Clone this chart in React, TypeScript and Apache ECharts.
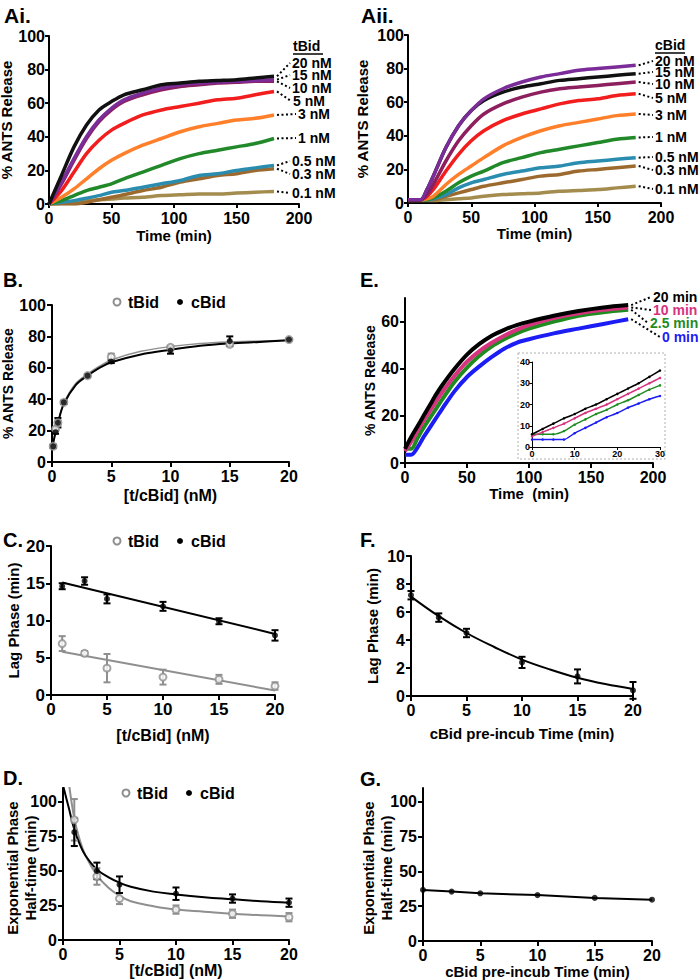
import React, { useEffect, useRef } from "react";
import * as echarts from "echarts";

const FONT = "Liberation Sans, Arial, sans-serif";

// ---------- Panel Ai (tBid time courses) ----------
const tAi = [0, 10, 20, 30, 40, 50, 60, 75, 90, 105, 120, 135, 150, 165, 180];
const Ai_labels = ["20 nM", "15 nM", "10 nM", "5 nM", "3 nM", "1 nM", "0.5 nM", "0.3 nM", "0.1 nM"];
const Ai_20 = [0, 17, 34, 47, 56, 61, 65, 68, 71, 72, 73, 73.5, 74, 75, 76];
const Ai_15 = [0, 13, 27, 40, 50, 57, 62, 66, 69, 71, 72, 72.5, 73, 73.5, 74];
const Ai_10 = [0, 12, 26, 39, 49, 56, 61, 65, 68, 70, 71, 72, 72.5, 73, 73];
const Ai_5 = [0, 8, 19, 30, 38, 44, 48, 53, 56, 58, 60, 62, 63, 65, 67];
const Ai_3 = [0, 4, 9, 15, 21, 26, 30, 35, 39, 43, 46, 48, 50, 51, 53];
const Ai_1 = [0, 2, 5, 8, 10, 12, 15, 19, 23, 27, 30, 32, 34, 36, 39];
const Ai_05 = [0, 1, 2, 3.5, 5, 7, 8, 10, 12, 14, 17, 18, 20, 21.5, 23];
const Ai_03 = [0, 0, 0, 1, 2.5, 4, 5.5, 8, 10, 13, 15, 17, 18, 20, 21];
const Ai_01 = [0, 0.5, 1.5, 2, 2.5, 3, 3.5, 4, 5, 5.5, 6, 6, 6.5, 7, 7.5];

// ---------- Panel Aii (cBid time courses) ----------
const tAii = [0, 10, 15, 20, 30, 40, 50, 60, 75, 90, 105, 120, 135, 150, 165, 180];
const Aii_labels = ["20 nM", "15 nM", "10 nM", "5 nM", "3 nM", "1 nM", "0.5 nM", "0.3 nM", "0.1 nM"];
const Aii_20 = [2, 2, 8, 16, 33, 46, 55, 62, 68, 72, 75, 77, 79, 80, 81, 82];
const Aii_15 = [2, 2, 8, 16, 33, 46, 55, 61, 66, 69, 71, 73, 74, 75, 76, 77];
const Aii_10 = [2, 2, 5, 11, 25, 37, 46, 53, 59, 63, 66, 68, 69, 70, 71, 72];
const Aii_5 = [2, 2, 4, 8, 19, 29, 37, 43, 49, 53, 56, 59, 61, 62, 64, 65];
const Aii_3 = [2, 2, 2.5, 4, 11, 17, 22, 27, 34, 39, 43, 46, 48, 50, 52, 53];
const Aii_1 = [2, 2, 2, 3, 7, 12, 16, 19, 24, 27, 30, 32, 34, 36, 38, 39];
const Aii_05 = [2, 2, 2, 2.5, 5, 9, 12, 14, 17, 19, 21, 22, 24, 25, 26, 27];
const Aii_03 = [2, 2, 2, 2, 4, 6, 8, 10, 12, 14, 16, 17, 19, 20, 21, 22];
const Aii_01 = [1.5, 1.5, 1.5, 1.5, 2, 2.5, 3, 4, 5, 5.5, 6, 7, 7.5, 8, 9, 10];

// ---------- Panel B ----------
const B_x = [0.1, 0.3, 0.5, 1, 3, 5, 10, 15, 20];
const B_tBid = [10, 21, 25, 38, 55, 67, 73, 75, 78];
const B_tBid_err = [1, 1, 1.5, 1, 1, 2, 1, 1, 0.5];
const B_cBid = [10, 19, 25, 38, 55, 64, 71, 77, 78];
const B_cBid_err = [1, 1, 3, 1, 1, 1, 2, 3, 0.5];
const B_fit_x = [0, 0.1, 0.3, 0.5, 1, 2, 3, 4, 5, 7.5, 10, 12.5, 15, 17.5, 20];
const B_fit_tBid = [8, 12, 19, 25, 37.5, 50, 56, 61, 65, 70.5, 73.5, 75.5, 76.5, 77, 77.5];
const B_fit_cBid = [8, 12, 19, 25, 37, 49, 55, 60, 63.5, 68.5, 71.5, 74, 75.5, 76.5, 77.5];

// ---------- Panel E ----------
const tE = [0, 5, 10, 15, 20, 25, 30, 40, 50, 60, 70, 80, 90, 100, 120, 140, 160, 180];
const E_labels = ["20 min", "10 min", "2.5 min", "0 min"];
const E_20 = [6, 11, 15.5, 20, 24.5, 29, 33, 40, 46, 50.5, 54, 56.5, 58.5, 60, 62.5, 64.5, 66, 67];
const E_10 = [5, 9, 13.5, 18, 22, 26, 30, 37, 43, 47.5, 51, 54, 56.5, 58.5, 61.5, 63.5, 65, 66];
const E_2_5 = [6, 6, 10.5, 15, 19, 23, 27, 34.5, 40.5, 45.5, 49.5, 52.5, 55, 57, 60, 62.5, 64, 65];
const E_0 = [3.5, 3.5, 6.5, 11, 15, 19, 23, 30.5, 36.5, 41, 45, 48.5, 51, 52.5, 55, 57, 59, 61];
// inset (first 30 min)
const tIn = [0, 2.5, 5, 7.5, 10, 12.5, 15, 17.5, 20, 22.5, 25, 27.5, 30];
const In_20 = [6, 8.5, 11, 13.5, 15.5, 18, 20, 22.5, 25, 27.5, 30, 33, 36];
const In_10 = [5, 7, 9, 11, 13.5, 16, 18, 20, 22.5, 25, 27.5, 30, 32.5];
const In_2_5 = [6, 6, 6, 7.5, 10.5, 13, 15.5, 17.5, 20, 22, 24.5, 27, 29];
const In_0 = [3.5, 3.5, 3.5, 3.5, 6.5, 9, 11.5, 14, 16, 18.5, 20.5, 22.5, 24];

// ---------- Panel C ----------
const C_x = [1, 3, 5, 10, 15, 20];
const C_cBid = [14.6, 15.3, 12.9, 11.9, 9.9, 8.0];
const C_cBid_err = [0.4, 0.5, 0.6, 0.6, 0.4, 0.7];
const C_tBid = [6.9, 5.6, 3.6, 2.4, 2.1, 1.2];
const C_tBid_err = [1.0, 0.3, 1.9, 1.0, 0.6, 0.5];
const C_fit_x = [1, 20];
const C_fit_cBid = [15.1, 8.2];
const C_fit_tBid = [5.8, 0.6];

// ---------- Panel F ----------
const F_x = [0, 2.5, 5, 10, 15, 20];
const F_y = [7.2, 5.6, 4.5, 2.4, 1.4, 0.4];
const F_err = [0.3, 0.3, 0.3, 0.4, 0.5, 0.6];
const F_fit_x = [0, 2.5, 5, 7.5, 10, 12.5, 15, 17.5, 20];
const F_fit_y = [7.1, 5.7, 4.5, 3.5, 2.6, 1.9, 1.3, 0.85, 0.5];

// ---------- Panel D ----------
const D_x = [1, 3, 5, 10, 15, 20];
const D_cBid = [78, 50, 40, 33.5, 30, 27];
const D_cBid_err = [10, 6, 6, 4.5, 3, 3];
const D_tBid = [87, 46, 30, 22, 19, 16.5];
const D_tBid_err = [15, 6, 4, 3, 3, 3];
const D_fit_cBid_x = [0, 0.5, 1, 1.5, 2, 3, 4, 5, 6, 8, 10, 12.5, 15, 17.5, 20];
const D_fit_cBid = [112, 96, 80, 69, 61, 51, 45.5, 41.5, 38.5, 35, 33, 31, 29.5, 28, 27];
const D_fit_tBid_x = [0.5, 1, 1.5, 2, 3, 4, 5, 6, 8, 10, 12.5, 15, 17.5, 20];
const D_fit_tBid = [115, 88, 72, 61, 47, 38, 32, 28, 24.5, 22, 20.5, 19, 18, 17];

// ---------- Panel G ----------
const G_x = [0, 2.5, 5, 10, 15, 20];
const G_y = [36.7, 35.5, 34.3, 33, 31, 29.7];

const A_COLORS_I = ["#111111", "#7b2c98", "#8d1f5e", "#f21d1d", "#ff7f2a", "#22892a", "#2a8db0", "#9c6a2e", "#a38c4d"];
const A_COLORS_II = ["#7b2c98", "#111111", "#8d1f5e", "#f21d1d", "#ff7f2a", "#22892a", "#2a8db0", "#9c6a2e", "#a38c4d"];
const E_COLORS = ["#000000", "#d6337f", "#1f8c1f", "#1c1cf5"];
const GRAY = "#8f8f8f";

const pairs = (xs: number[], ys: number[]) => xs.map((x, i) => [x, ys[i]]);

function axis(grid: number, min: number, max: number, opts: any = {}) {
  const fs = opts.fontSize ?? 15;
  const w = opts.lw ?? 2;
  const ns = opts.nameSize ?? 15;
  const ax: any = {
    gridIndex: grid,
    type: "value",
    min,
    max,
    interval: opts.interval,
    name: opts.name ?? "",
    nameLocation: "middle",
    nameGap: opts.nameGap ?? 25,
    nameTextStyle: {
      color: "#000",
      fontWeight: "bold",
      fontSize: ns,
      fontFamily: FONT,
    },
    axisLine: { show: true, onZero: false, lineStyle: { color: "#000", width: w } },
    axisTick: { show: true, inside: false, length: opts.tickLen ?? 5, lineStyle: { color: "#000", width: w } },
    axisLabel: {
      color: "#000",
      fontWeight: "bold",
      fontSize: fs,
      fontFamily: FONT,
      margin: opts.margin ?? 6,
    },
    splitLine: { show: false },
  };
  if (opts.custom) {
    ax.axisTick.customValues = opts.custom;
    ax.axisLabel.customValues = opts.custom;
  }
  return ax;
}

function line(grid: number, xs: number[], ys: number[], color: string, width: number, extra: any = {}) {
  return {
    type: "line",
    xAxisIndex: grid,
    yAxisIndex: grid,
    data: pairs(xs, ys),
    showSymbol: false,
    smooth: 0.3,
    lineStyle: { color, width },
    itemStyle: { color },
    silent: true,
    z: 2,
    ...extra,
  };
}

function scatter(grid: number, xs: number[], ys: number[], hollow: boolean, size: number) {
  return {
    type: "scatter",
    xAxisIndex: grid,
    yAxisIndex: grid,
    data: pairs(xs, ys),
    symbol: "circle",
    symbolSize: size,
    itemStyle: hollow
      ? { color: "#fff", borderColor: GRAY, borderWidth: 2 }
      : { color: "#000" },
    silent: true,
    z: 4,
  };
}

function errBars(grid: number, xs: number[], ys: number[], errs: number[], color: string) {
  return {
    type: "custom",
    xAxisIndex: grid,
    yAxisIndex: grid,
    data: xs.map((x, i) => [x, ys[i] - errs[i], ys[i] + errs[i]]),
    encode: { x: 0, y: [1, 2] },
    silent: true,
    z: 3,
    renderItem: (params: any, api: any) => {
      const x = api.value(0);
      const p1 = api.coord([x, api.value(1)]);
      const p2 = api.coord([x, api.value(2)]);
      const w = 3.5;
      const st = { stroke: color, lineWidth: 2 };
      return {
        type: "group",
        children: [
          { type: "line", shape: { x1: p1[0], y1: p1[1], x2: p2[0], y2: p2[1] }, style: st },
          { type: "line", shape: { x1: p1[0] - w, y1: p1[1], x2: p1[0] + w, y2: p1[1] }, style: st },
          { type: "line", shape: { x1: p2[0] - w, y1: p2[1], x2: p2[0] + w, y2: p2[1] }, style: st },
        ],
      };
    },
  };
}

function txt(x: number, y: number, text: string, size: number, extra: any = {}) {
  return {
    type: "text",
    x,
    y,
    z: 10,
    rotation: extra.rotation ?? 0,
    silent: true,
    style: {
      text,
      fill: extra.fill ?? "#000",
      fontSize: size,
      fontWeight: "bold",
      fontFamily: FONT,
      align: extra.align ?? "left",
      verticalAlign: "middle",
    },
  };
}

function legendGroup(y: number, cx1: number, cx2: number) {
  return [
    { type: "circle", shape: { cx: cx1, cy: y, r: 3.5 }, style: { fill: "#fff", stroke: GRAY, lineWidth: 2 }, z: 10, silent: true },
    txt(cx1 + 11, y, "tBid", 16),
    { type: "circle", shape: { cx: cx2, cy: y, r: 3 }, style: { fill: "#000" }, z: 10, silent: true },
    txt(cx2 + 11, y, "cBid", 16),
  ];
}

export default function App() {
  const ref = useRef<HTMLDivElement>(null);

  useEffect(() => {
    if (!ref.current) return;
    const chart = echarts.init(ref.current, null, { renderer: "svg" });

    const grids = [
      [49, 36, 250, 168], // Ai
      [408, 35, 253, 168], // Aii
      [52, 305, 237, 157], // B
      [405, 298, 248, 165], // E
      [532, 362, 128, 85], // inset
      [51, 546, 224, 149], // C
      [411, 556, 222, 140], // F
      [63, 788, 226, 152], // D
      [423, 788, 229, 153], // G
    ];

    const xAxis = [
      axis(0, 0, 200, { interval: 50, name: "Time (min)", nameGap: 24, fontSize: 16, nameSize: 15, tickLen: 4, margin: 6 }),
      axis(1, 0, 200, { interval: 50, name: "Time (min)", nameGap: 23, fontSize: 16, nameSize: 15, tickLen: 4, margin: 6 }),
      axis(2, 0, 20, { interval: 5, name: "[t/cBid] (nM)", nameGap: 25, fontSize: 16, nameSize: 16 }),
      axis(3, 0, 200, { interval: 50, name: "Time  (min)", nameGap: 23, fontSize: 16, nameSize: 15 }),
      axis(4, 0, 30, { interval: 10, fontSize: 9, lw: 1, tickLen: 3, margin: 2 }),
      axis(5, 0, 20, { interval: 5, name: "[t/cBid] (nM)", nameGap: 32, fontSize: 17, nameSize: 16 }),
      axis(6, 0, 20, { interval: 5, name: "cBid pre-incub Time (min)", nameGap: 30, fontSize: 16, nameSize: 15 }),
      axis(7, 0, 20, { interval: 5, name: "[t/cBid] (nM)", nameGap: 15, fontSize: 16, nameSize: 16 }),
      axis(8, 0, 20, { interval: 5, name: "cBid pre-incub Time (min)", nameGap: 16, fontSize: 16, nameSize: 15 }),
    ];
    const yAxis = [
      axis(0, 0, 100, { interval: 20, name: "% ANTS Release", nameGap: 33, fontSize: 16, nameSize: 15, tickLen: 4, margin: 4 }),
      axis(1, 0, 100, { interval: 20, name: "% ANTS Release", nameGap: 38, fontSize: 16, nameSize: 15, tickLen: 4, margin: 4 }),
      axis(2, 0, 100, { interval: 20, name: "% ANTS Release", nameGap: 29, fontSize: 16, nameSize: 14 }),
      axis(3, 0, 70, { custom: [0, 20, 40, 60], name: "% ANTS Release", nameGap: 28, fontSize: 16, nameSize: 14 }),
      axis(4, 0, 40, { interval: 10, fontSize: 9, lw: 1, tickLen: 3, margin: 2 }),
      axis(5, 0, 20, { interval: 5, name: "Lag Phase (min)", nameGap: 30, fontSize: 17, nameSize: 15 }),
      axis(6, 0, 10, { interval: 2, name: "Lag Phase (min)", nameGap: 31, fontSize: 16, nameSize: 15 }),
      axis(7, 0, 110, { custom: [0, 25, 50, 75, 100], fontSize: 16 }),
      axis(8, 0, 110, { custom: [0, 25, 50, 75, 100], fontSize: 16 }),
    ];

    const AiSets = [Ai_20, Ai_15, Ai_10, Ai_5, Ai_3, Ai_1, Ai_05, Ai_03, Ai_01];
    const AiiSets = [Aii_20, Aii_15, Aii_10, Aii_5, Aii_3, Aii_1, Aii_05, Aii_03, Aii_01];
    const ESets = [E_20, E_10, E_2_5, E_0];
    const InSets = [In_20, In_10, In_2_5, In_0];

    const series: any[] = [];
    for (let i = AiSets.length - 1; i >= 0; i--) series.push(line(0, tAi, AiSets[i], A_COLORS_I[i], 3.5));
    for (let i = AiiSets.length - 1; i >= 0; i--) series.push(line(1, tAii, AiiSets[i], A_COLORS_II[i], 3.5));
    // B
    series.push(line(2, B_fit_x, B_fit_tBid, GRAY, 1.5, { smooth: 0.35 }));
    series.push(line(2, B_fit_x, B_fit_cBid, "#000", 2, { smooth: 0.35 }));
    series.push(errBars(2, B_x, B_tBid, B_tBid_err, GRAY));
    series.push(errBars(2, B_x, B_cBid, B_cBid_err, "#000"));
    series.push(scatter(2, B_x, B_tBid, true, 7));
    series.push(scatter(2, B_x, B_cBid, false, 6));
    // E
    for (let i = ESets.length - 1; i >= 0; i--) series.push(line(3, tE, ESets[i], E_COLORS[i], 4));
    // inset
    for (let i = InSets.length - 1; i >= 0; i--)
      series.push(
        line(4, tIn, InSets[i], E_COLORS[i], 1.5, {
          showSymbol: true,
          symbol: "circle",
          symbolSize: 2.5,
          smooth: 0.2,
        })
      );
    // C
    series.push(line(5, C_fit_x, C_fit_tBid, GRAY, 2, { smooth: false }));
    series.push(line(5, C_fit_x, C_fit_cBid, "#000", 2, { smooth: false }));
    series.push(errBars(5, C_x, C_tBid, C_tBid_err, GRAY));
    series.push(errBars(5, C_x, C_cBid, C_cBid_err, "#000"));
    series.push(scatter(5, C_x, C_tBid, true, 7));
    series.push(scatter(5, C_x, C_cBid, false, 6));
    // F
    series.push(line(6, F_fit_x, F_fit_y, "#000", 2, { smooth: 0.4 }));
    series.push(errBars(6, F_x, F_y, F_err, "#000"));
    series.push(scatter(6, F_x, F_y, false, 6));
    // D
    series.push(line(7, D_fit_tBid_x, D_fit_tBid, GRAY, 2, { smooth: 0.4, clip: true }));
    series.push(line(7, D_fit_cBid_x, D_fit_cBid, "#000", 2, { smooth: 0.4, clip: true }));
    series.push(errBars(7, D_x, D_tBid, D_tBid_err, GRAY));
    series.push(errBars(7, D_x, D_cBid, D_cBid_err, "#000"));
    series.push(scatter(7, D_x, D_tBid, true, 7));
    series.push(scatter(7, D_x, D_cBid, false, 6));
    // G
    series.push(line(8, G_x, G_y, "#000", 2, { smooth: false }));
    series.push(scatter(8, G_x, G_y, false, 6));

    const option: any = {
      animation: false,
      backgroundColor: "#fff",
      grid: grids.map((g) => ({
        left: g[0],
        top: g[1],
        width: g[2],
        height: g[3],
        containLabel: false,
        outerBoundsMode: "none",
      })),
      xAxis,
      yAxis,
      series,
    };
    chart.setOption(option);

    // ---- annotations (labels, leaders, legends) ----
    const dash = { stroke: "#000", lineWidth: 2, lineDash: [2, 2.5] };
    const g: any[] = [];
    g.push(txt(4, 15, "Ai.", 21));
    g.push(txt(361, 15, "Aii.", 21));
    g.push(txt(3, 280, "B.", 20));
    g.push(txt(360, 280, "E.", 20));
    g.push(txt(3, 540, "C.", 20));
    g.push(txt(360, 540, "F.", 20));
    g.push(txt(3, 778, "D.", 20));
    g.push(txt(360, 779, "G.", 20));

    // two-line y-axis titles of D and G
    const rot = Math.PI / 2;
    g.push(txt(12, 868, "Exponential Phase", 15, { align: "center", rotation: rot }));
    g.push(txt(30, 868, "Half-time (min)", 15, { align: "center", rotation: rot }));
    g.push(txt(368, 868, "Exponential Phase", 15, { align: "center", rotation: rot }));
    g.push(txt(386, 868, "Half-time (min)", 15, { align: "center", rotation: rot }));

    // Ai labels
    g.push(txt(293, 46, "tBid", 14));
    g.push({ type: "line", shape: { x1: 293, y1: 54, x2: 323, y2: 54 }, style: { stroke: "#000", lineWidth: 1.5 }, z: 10 });
    const AiY = [63, 75, 88, 101, 114, 138, 161, 174, 193];
    const AiX = [292, 292, 292, 293, 298, 298, 292, 292, 292];
    AiSets.forEach((s, i) => {
      const p = chart.convertToPixel({ gridIndex: 0 }, [tAi[tAi.length - 1], s[s.length - 1]]) as number[];
      g.push({ type: "line", shape: { x1: p[0] + 3, y1: p[1], x2: AiX[i] - 2, y2: AiY[i] }, style: dash, z: 10, silent: true });
      g.push(txt(AiX[i], AiY[i], Ai_labels[i], 14));
    });
    // Aii labels
    g.push(txt(655, 45, "cBid", 14));
    g.push({ type: "line", shape: { x1: 655, y1: 53, x2: 685, y2: 53 }, style: { stroke: "#000", lineWidth: 1.5 }, z: 10 });
    const AiiY = [61, 72, 84, 98, 115, 137, 157, 170, 189];
    AiiSets.forEach((s, i) => {
      const p = chart.convertToPixel({ gridIndex: 1 }, [tAii[tAii.length - 1], s[s.length - 1]]) as number[];
      g.push({ type: "line", shape: { x1: p[0] + 3, y1: p[1], x2: 653, y2: AiiY[i] }, style: dash, z: 10, silent: true });
      g.push(txt(655, AiiY[i], Aii_labels[i], 14));
    });
    // E labels
    const EY = [297, 310, 323, 337];
    const EX = [653, 653, 650, 662];
    ESets.forEach((s, i) => {
      const p = chart.convertToPixel({ gridIndex: 3 }, [tE[tE.length - 1], s[s.length - 1]]) as number[];
      g.push({ type: "line", shape: { x1: p[0] + 3, y1: p[1], x2: EX[i] - 2, y2: EY[i] }, style: dash, z: 10, silent: true });
      g.push(txt(EX[i], EY[i], E_labels[i], 14, { fill: E_COLORS[i] }));
    });
    // inset frame
    g.push({
      type: "rect",
      shape: { x: 518, y: 353, width: 147, height: 106 },
      style: { fill: "#fff", stroke: "#b0b0b0", lineWidth: 1, lineDash: [2, 2] },
      z: -10,
      silent: true,
    });
    // legends
    g.push(...legendGroup(302, 117, 180));
    g.push(...legendGroup(541, 117, 180));
    g.push(...legendGroup(793, 126, 189));

    chart.setOption({ graphic: g });

    return () => chart.dispose();
  }, []);

  return (
    <div
      ref={ref}
      style={{ position: "absolute", left: 0, top: 0, width: 700, height: 980, background: "#fff" }}
    />
  );
}
